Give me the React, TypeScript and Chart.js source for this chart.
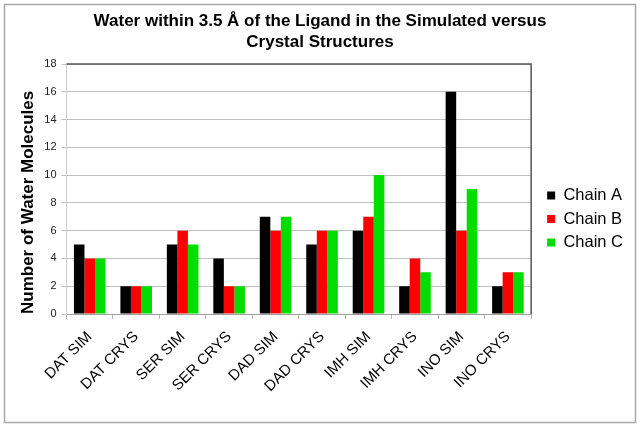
import React, { useEffect, useRef } from "react";
import { Chart, registerables } from "chart.js";

Chart.register(...registerables);

const categories = [
  "DAT SIM", "DAT CRYS", "SER SIM", "SER CRYS", "DAD SIM",
  "DAD CRYS", "IMH SIM", "IMH CRYS", "INO SIM", "INO CRYS",
];
const chainA = [5, 2, 5, 4, 7, 5, 6, 2, 16, 2];
const chainB = [4, 2, 6, 2, 6, 6, 7, 4, 6, 3];
const chainC = [4, 2, 5, 2, 7, 6, 10, 3, 9, 3];
const seriesNames = ["Chain A", "Chain B", "Chain C"];
const titleLines = [
  "Water within 3.5 Å of the Ligand in the Simulated versus",
  "Crystal Structures",
];
const yTitle = "Number of Water Molecules";
const yMin = 0;
const yMax = 18;
const yStep = 2;

const FONT = "'Liberation Sans', Arial, Helvetica, sans-serif";

const framePlugin = {
  id: "framePlugin",
  beforeDraw(chart: any) {
    const { ctx, width, height } = chart;
    ctx.save();
    ctx.fillStyle = "#ffffff";
    ctx.fillRect(0, 0, width, height);
    ctx.strokeStyle = "#a8a8a8";
    ctx.lineWidth = 1.5;
    ctx.strokeRect(4.5, 4.5, width - 9, height - 9);
    ctx.restore();
  },
  afterDatasetsDraw(chart: any) {
    const { ctx, chartArea } = chart;
    ctx.save();
    ctx.strokeStyle = "#555555";
    ctx.lineWidth = 1.5;
    ctx.beginPath();
    ctx.moveTo(chartArea.left, chartArea.top);
    ctx.lineTo(chartArea.right, chartArea.top);
    ctx.lineTo(chartArea.right, chartArea.bottom);
    ctx.stroke();
    ctx.restore();
  },
  afterLayout(chart: any) {
    const lg = chart.legend;
    if (lg) {
      const dx = 9;
      const dy = 30;
      lg.left += dx;
      lg.right += dx;
      lg.top += dy;
      lg.bottom += dy;
    }
    const tb = chart.titleBlock;
    if (tb) {
      tb.left += 8;
      tb.right += 8;
    }
  },
};

export default function App() {
  const ref = useRef<HTMLCanvasElement | null>(null);

  useEffect(() => {
    if (!ref.current) return;
    const chart = new Chart(ref.current, {
      type: "bar",
      data: {
        labels: categories,
        datasets: [
          { label: seriesNames[0], data: chainA, backgroundColor: "#000000", borderWidth: 0 },
          { label: seriesNames[1], data: chainB, backgroundColor: "#ff0000", borderWidth: 0 },
          { label: seriesNames[2], data: chainC, backgroundColor: "#00dd00", borderWidth: 0 },
        ],
      },
      options: {
        responsive: false,
        animation: false,
        devicePixelRatio: 1,
        layout: { padding: { top: 6, left: 0, right: 16, bottom: 0 } },
        datasets: {
          bar: { barPercentage: 1, categoryPercentage: 0.68 },
        },
        plugins: {
          title: {
            display: true,
            text: titleLines,
            color: "#000000",
            font: { family: FONT, size: 17, weight: "bold", lineHeight: 1.25 },
            padding: { top: 4.4, bottom: 11.1 },
          },
          legend: {
            display: true,
            position: "right",
            fullSize: false,
            align: "center",
            labels: {
              boxWidth: 8,
              boxHeight: 8,
              padding: 7,
              color: "#000000",
              font: { family: FONT, size: 16.5 },
            },
          },
          tooltip: { enabled: false },
        },
        scales: {
          x: {
            grid: {
              display: true,
              drawOnChartArea: false,
              drawTicks: true,
              tickLength: 5,
              color: "#b8b8b8",
              offset: true,
            },
            border: { display: true, color: "#a0a0a0" },
            ticks: {
              autoSkip: false,
              maxRotation: 45,
              minRotation: 45,
              padding: 9,
              color: "#000000",
              font: { family: FONT, size: 15 },
            },
            afterFit(scale: any) {
              scale.height = 113;
            },
          },
          y: {
            min: yMin,
            max: yMax,
            ticks: {
              stepSize: yStep,
              padding: 5,
              color: "#222222",
              font: { family: FONT, size: 11 },
            },
            grid: {
              color: "#c0c0c0",
              tickLength: 5,
              drawTicks: true,
            },
            border: { display: true, color: "#cccccc" },
            title: {
              display: true,
              text: yTitle,
              align: "start",
              color: "#000000",
              font: { family: FONT, size: 17, weight: "bold" },
              padding: { top: 18, bottom: 0 },
            },
            afterFit(scale: any) {
              scale.width = 66.5;
            },
          },
        },
      },
      plugins: [framePlugin],
    } as any);
    return () => chart.destroy();
  }, []);

  return (
    <div style={{ position: "fixed", left: 0, top: 0, width: 640, height: 427, background: "#fff" }}>
      <canvas ref={ref} width={640} height={427} style={{ width: 640, height: 427, display: "block" }} />
    </div>
  );
}
